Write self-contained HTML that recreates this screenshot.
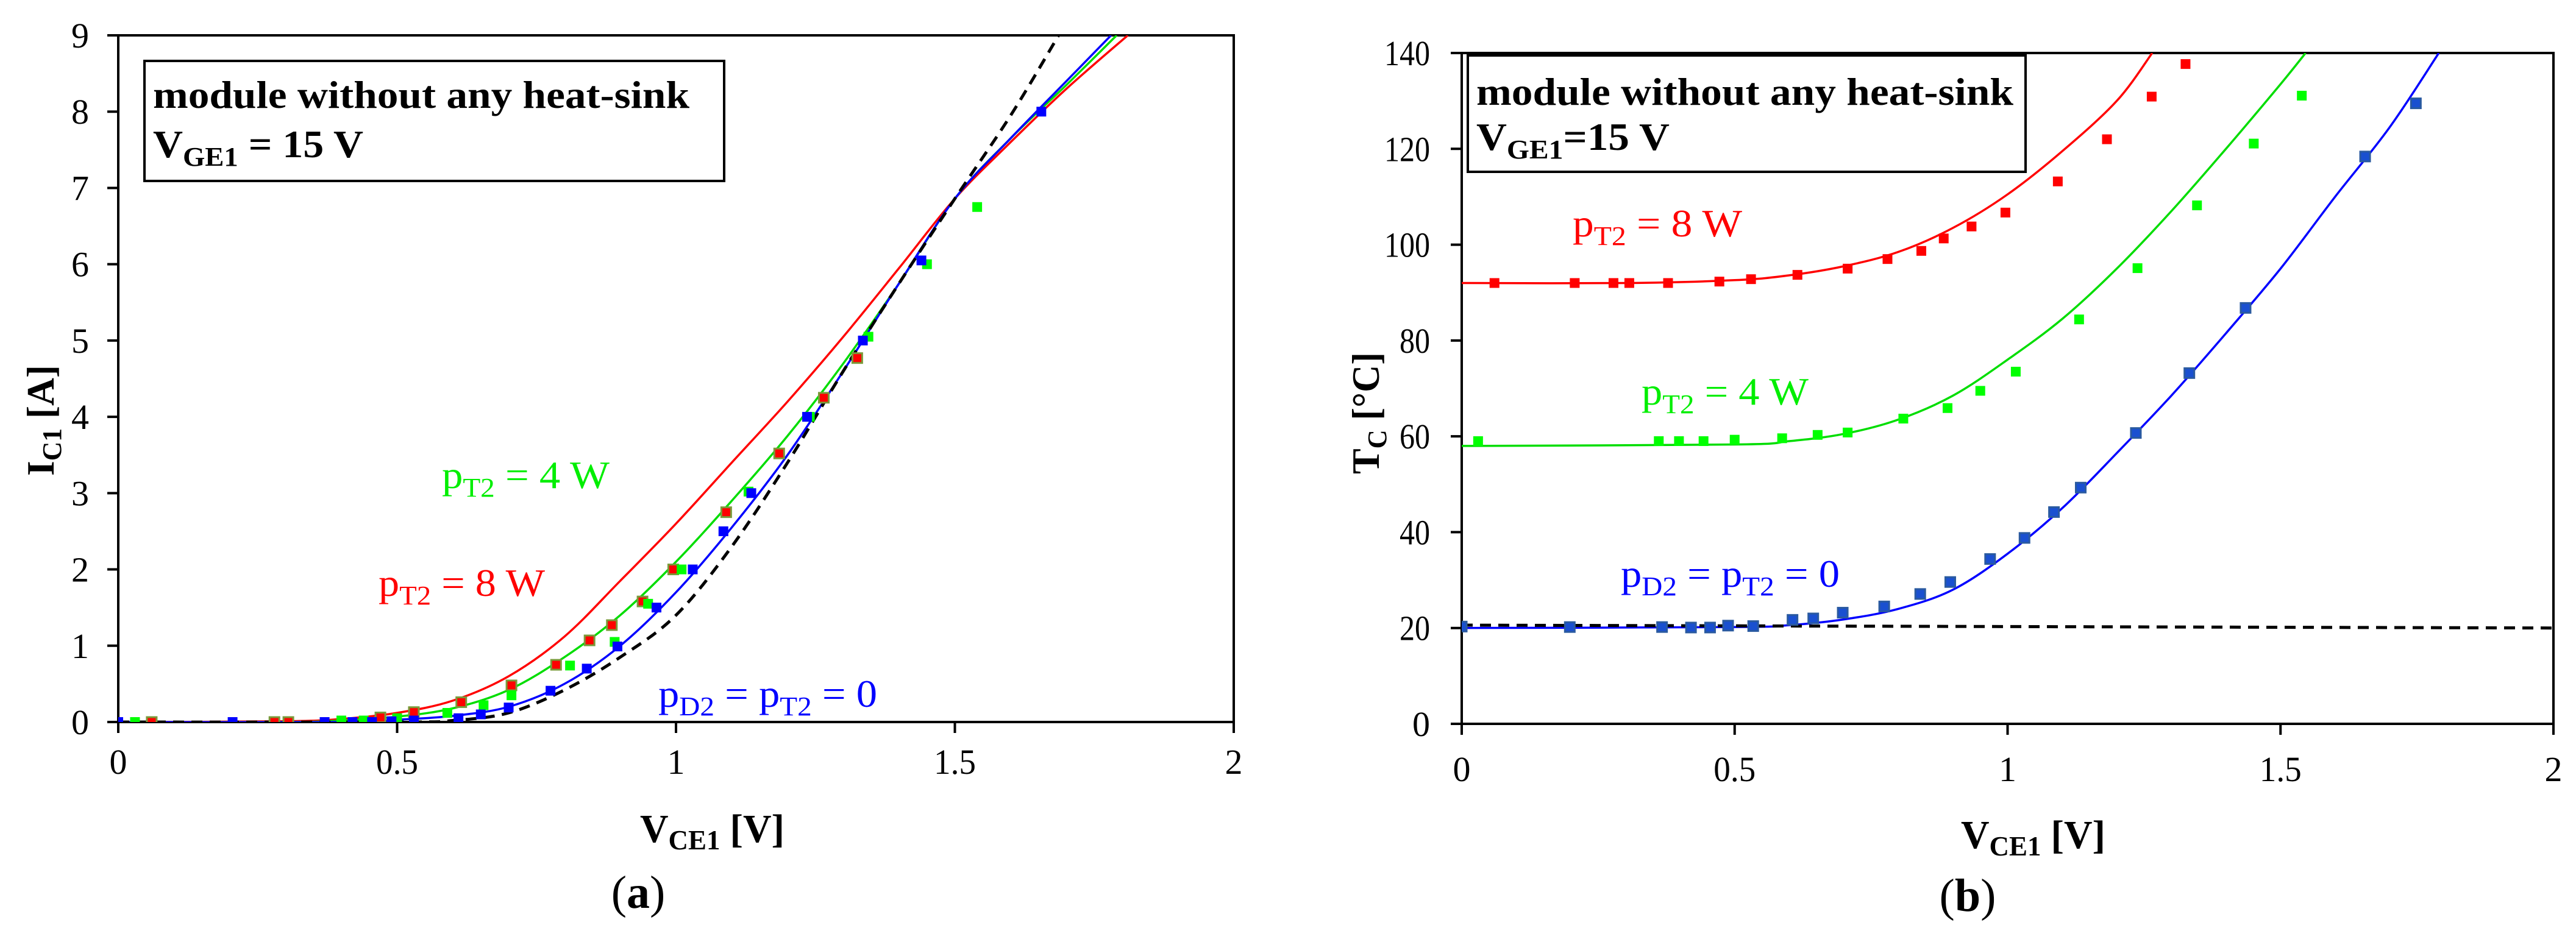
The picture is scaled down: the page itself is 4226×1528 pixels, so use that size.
<!DOCTYPE html>
<html><head><meta charset="utf-8"><style>
html,body{margin:0;padding:0;background:#fff;}
svg{display:block;}
svg text{font-family:"Liberation Serif","Times New Roman",serif;}
</style></head><body>
<svg id="fig" width="4226" height="1528" viewBox="0 0 4226 1528" xmlns="http://www.w3.org/2000/svg" font-family="Liberation Serif, 'Times New Roman', serif">
<defs>
<clipPath id="clipA"><rect x="194" y="58" width="1830" height="1127"/></clipPath>
<clipPath id="clipB"><rect x="2398" y="87" width="1791" height="1101"/></clipPath>
</defs>
<g id="chartA"></g>
<g id="chartB"></g>

<rect x="237" y="100" width="951" height="197" fill="#fff" stroke="#000" stroke-width="4"/>
<text x="251" y="177" font-size="64" font-weight="bold" textLength="880" lengthAdjust="spacingAndGlyphs">module without any heat-sink</text>
<text x="251" y="258" font-size="64" font-weight="bold" textLength="345" lengthAdjust="spacingAndGlyphs">V<tspan font-size="44" dy="14">GE1</tspan><tspan dy="-14"> = 15 V</tspan></text>
<text x="725" y="801" font-size="64" fill="#00ee00" textLength="275" lengthAdjust="spacingAndGlyphs">p<tspan font-size="44" dy="14">T2</tspan><tspan dy="-14"> = 4 W</tspan></text>
<text x="621" y="978" font-size="64" fill="#ff0000" textLength="273" lengthAdjust="spacingAndGlyphs">p<tspan font-size="44" dy="14">T2</tspan><tspan dy="-14"> = 8 W</tspan></text>
<text x="1080" y="1160" font-size="64" fill="#0000ff" textLength="359" lengthAdjust="spacingAndGlyphs">p<tspan font-size="44" dy="14">D2</tspan><tspan dy="-14"> = p</tspan><tspan font-size="44" dy="14">T2</tspan><tspan dy="-14"> = 0</tspan></text>
<text transform="translate(88,690) rotate(-90)" text-anchor="middle" font-size="64" font-weight="bold" textLength="182" lengthAdjust="spacingAndGlyphs">I<tspan font-size="44" dy="12">C1</tspan><tspan dy="-12"> [A]</tspan></text>
<text x="1050" y="1382" font-size="66" font-weight="bold" textLength="237" lengthAdjust="spacingAndGlyphs">V<tspan font-size="46" dy="12">CE1</tspan><tspan dy="-12"> [V]</tspan></text>
<text x="1047" y="1490" font-size="76" text-anchor="middle">(<tspan font-weight="bold">a</tspan>)</text>

<rect x="2408" y="91" width="915" height="191" fill="#fff" stroke="#000" stroke-width="4"/>
<text x="2422" y="172" font-size="64" font-weight="bold" textLength="881" lengthAdjust="spacingAndGlyphs">module without any heat-sink</text>
<text x="2422" y="246" font-size="64" font-weight="bold" textLength="317" lengthAdjust="spacingAndGlyphs">V<tspan font-size="44" dy="14">GE1</tspan><tspan dy="-14">=15 V</tspan></text>
<text x="2580" y="388" font-size="64" fill="#ff0000" textLength="278" lengthAdjust="spacingAndGlyphs">p<tspan font-size="44" dy="14">T2</tspan><tspan dy="-14"> = 8 W</tspan></text>
<text x="2693" y="664" font-size="64" fill="#00ee00" textLength="274" lengthAdjust="spacingAndGlyphs">p<tspan font-size="44" dy="14">T2</tspan><tspan dy="-14"> = 4 W</tspan></text>
<text x="2659" y="963" font-size="64" fill="#0000ff" textLength="359" lengthAdjust="spacingAndGlyphs">p<tspan font-size="44" dy="14">D2</tspan><tspan dy="-14"> = p</tspan><tspan font-size="44" dy="14">T2</tspan><tspan dy="-14"> = 0</tspan></text>
<text transform="translate(2262,678) rotate(-90)" text-anchor="middle" font-size="64" font-weight="bold" textLength="200" lengthAdjust="spacingAndGlyphs">T<tspan font-size="44" dy="12">C</tspan><tspan dy="-12">  [°C]</tspan></text>
<text x="3217" y="1392" font-size="66" font-weight="bold" textLength="237" lengthAdjust="spacingAndGlyphs">V<tspan font-size="46" dy="12">CE1</tspan><tspan dy="-12"> [V]</tspan></text>
<text x="3228" y="1495" font-size="76" text-anchor="middle">(<tspan font-weight="bold">b</tspan>)</text>
</svg>
<script>
const aXTicks = [0, 0.5, 1, 1.5, 2];
const aXTickLabels = ["0", "0.5", "1", "1.5", "2"];
const aYTicks = [0,1,2,3,4,5,6,7,8,9];
const aYTickLabels = ["0","1","2","3","4","5","6","7","8","9"];
const aBlueX = [0,0.205,0.37,0.42,0.455,0.49,0.53,0.61,0.65,0.70,0.775,0.84,0.895,0.965,1.03,1.085,1.135,1.235,1.335,1.44,1.655];
const aBlueY = [0,0,0,0,0,0.01,0.02,0.05,0.1,0.19,0.41,0.7,0.99,1.5,2.0,2.5,3.0,4.0,5.0,6.05,8.0];
const aGreenX = [0.03,0.37,0.40,0.44,0.5,0.59,0.655,0.705,0.81,0.89,0.95,1.01,1.13,1.24,1.345,1.45,1.54];
const aGreenY = [0,0,0.02,0.02,0.05,0.12,0.22,0.35,0.74,1.05,1.55,2.0,3.02,4.0,5.05,6.0,6.75];
const aRedX = [0.06,0.28,0.305,0.47,0.53,0.615,0.705,0.785,0.845,0.885,0.94,0.995,1.09,1.185,1.265,1.325];
const aRedY = [0,0,0,0.06,0.13,0.26,0.48,0.75,1.07,1.27,1.58,2.0,2.75,3.52,4.25,4.77];
const aRedLineX = [0,0.3,0.4,0.5,0.6,0.7,0.8,0.9,1.0,1.1,1.2,1.3,1.4,1.5,1.6,1.7,1.81];
const aRedLineY = [0,0.01,0.04,0.12,0.28,0.6,1.12,1.85,2.6,3.4,4.2,5.05,5.95,6.86,7.6,8.3,9];
const aGreenLineX = [0,0.3,0.4,0.5,0.6,0.7,0.8,0.9,1.0,1.1,1.2,1.3,1.4,1.5,1.6,1.7,1.79];
const aGreenLineY = [0,0,0.02,0.07,0.18,0.42,0.85,1.4,2.1,2.9,3.75,4.7,5.75,6.86,7.65,8.35,9];
const aBlueLineX = [0,0.4,0.5,0.6,0.7,0.8,0.9,1.0,1.1,1.2,1.3,1.4,1.5,1.6,1.7,1.78];
const aBlueLineY = [0,0,0.03,0.08,0.2,0.5,1.0,1.7,2.55,3.5,4.6,5.75,6.86,7.65,8.4,9];
const aDashX = [0,0.5,0.6,0.7,0.8,0.9,1.0,1.1,1.2,1.3,1.4,1.5,1.6,1.686];
const aDashY = [0,0,0.02,0.12,0.42,0.85,1.4,2.3,3.4,4.6,5.75,6.86,7.95,9];

const bXTicks = [0, 0.5, 1, 1.5, 2];
const bXTickLabels = ["0", "0.5", "1", "1.5", "2"];
const bYTicks = [0,20,40,60,80,100,120,140];
const bYTickLabels = ["0","20","40","60","80","100","120","140"];
const bRedX = [0.06,0.207,0.278,0.307,0.378,0.472,0.53,0.615,0.707,0.78,0.842,0.883,0.934,0.996,1.092,1.182,1.264,1.326];
const bRedY = [92,92,92,92,92,92.3,92.8,93.7,95,97,98.7,101.3,103.8,106.7,113.2,122,130.9,137.7];
const bGreenX = [0.03,0.361,0.398,0.443,0.5,0.587,0.652,0.707,0.809,0.89,0.95,1.015,1.131,1.238,1.347,1.451,1.539];
const bGreenY = [59,59,59,59,59.3,59.6,60.3,60.8,63.7,65.9,69.5,73.5,84.4,95.1,108.2,121.1,131.1];
const bBlueX = [0,0.198,0.367,0.42,0.455,0.488,0.534,0.606,0.644,0.698,0.774,0.84,0.895,0.968,1.031,1.085,1.134,1.235,1.333,1.436,1.655,1.748];
const bBlueY = [20.3,20.2,20.2,20.1,20.1,20.5,20.4,21.7,22,23.2,24.5,27.1,29.6,34.4,38.8,44.2,49.3,60.7,73.2,86.8,118.4,129.5];
const bRedLineX = [0,0.3,0.5,0.6,0.7,0.8,0.9,1.0,1.1,1.2,1.265];
const bRedLineY = [92,92,92.6,93.6,95.5,98.5,103.5,110.5,119.5,130,140];
const bGreenLineX = [0,0.5,0.6,0.7,0.8,0.9,1.0,1.1,1.2,1.3,1.4,1.5,1.546];
const bGreenLineY = [58,58.3,59,60.5,63.5,68.5,76,84.5,95,107,120,133.5,140];
const bBlueLineX = [0,0.5,0.6,0.7,0.8,0.9,1.0,1.1,1.2,1.3,1.4,1.5,1.6,1.7,1.79];
const bBlueLineY = [20,20.2,20.6,21.8,24,28,35.5,45,56.5,68.5,81.5,95,110,124.5,140];
const bDashX = [0,2];
const bDashY = [20.6,20];

const NS = "http://www.w3.org/2000/svg";
function mk(tag, attrs, parent){
  const e = document.createElementNS(NS, tag);
  for (const k in attrs) e.setAttribute(k, attrs[k]);
  parent.appendChild(e);
  return e;
}
function smoothPath(pts){
  if (pts.length < 3) return "M" + pts.map(p=>p[0].toFixed(1)+","+p[1].toFixed(1)).join(" L");
  let d = "M" + pts[0][0].toFixed(1) + "," + pts[0][1].toFixed(1);
  for (let i=0;i<pts.length-1;i++){
    const p0 = pts[Math.max(0,i-1)], p1 = pts[i], p2 = pts[i+1], p3 = pts[Math.min(pts.length-1,i+2)];
    const c1x = p1[0] + (p2[0]-p0[0])/6, c1y = p1[1] + (p2[1]-p0[1])/6;
    const c2x = p2[0] - (p3[0]-p1[0])/6, c2y = p2[1] - (p3[1]-p1[1])/6;
    d += " C" + c1x.toFixed(1)+","+c1y.toFixed(1)+" "+c2x.toFixed(1)+","+c2y.toFixed(1)+" "+p2[0].toFixed(1)+","+p2[1].toFixed(1);
  }
  return d;
}

function drawChart(g, cfg){
  const {x0,x1,y0,y1,xmax,ymax,clip} = cfg;
  const sx = v => x0 + (x1-x0)*v/xmax;
  const sy = v => y0 - (y0-y1)*v/ymax;
  const frame = mk("rect",{x:x0,y:y1,width:x1-x0,height:y0-y1,fill:"none",stroke:"#000","stroke-width":4},g);
  
  
  cfg.yTicks.forEach((t,i)=>{
    const tk = mk("line",{x1:x0-18,x2:x0,y1:sy(t),y2:sy(t),stroke:"#000","stroke-width":4},g);
    
    
    const lb = mk("text",{x:cfg.yLabelRight,y:sy(t)+20,"font-size":58,"text-anchor":"end"},g);
    
    
    lb.textContent = cfg.yTickLabels[i];
    if (lb.textContent.length>1) { lb.setAttribute("textLength", 25*lb.textContent.length); lb.setAttribute("lengthAdjust","spacingAndGlyphs"); }
  });
  cfg.xTicks.forEach((t,i)=>{
    const tk = mk("line",{x1:sx(t),x2:sx(t),y1:y0,y2:y0+18,stroke:"#000","stroke-width":4},g);
    
    
    const lb = mk("text",{x:sx(t),y:cfg.xLabelBase,"font-size":58,"text-anchor":"middle"},g);
    
    
    lb.textContent = cfg.xTickLabels[i];
    if (lb.textContent.length>1) { lb.setAttribute("textLength", 23*lb.textContent.length); lb.setAttribute("lengthAdjust","spacingAndGlyphs"); }
  });
  const cg = mk("g",{"clip-path":"url(#"+clip+")"},g);
  cfg.lines.forEach(L=>{
    const pts = L.x.map((v,i)=>[sx(v), sy(L.y[i])]);
    const p = mk("path",{d:smoothPath(pts),fill:"none",stroke:L.color,"stroke-width":L.w||3.5},cg);
    if (L.dash) p.setAttribute("stroke-dasharray", L.dash);
    
    
  });
  cfg.points.forEach(P=>{
    P.x.forEach((v,i)=>{
      const r = mk("rect",{x:sx(v)-8,y:sy(P.y[i])-8,width:16,height:16,fill:P.fill},cg);
      if (P.stroke) { r.setAttribute("stroke",P.stroke); r.setAttribute("stroke-width",3); }
      
      
    });
  });
}

drawChart(document.getElementById("chartA"),{
  x0:194,x1:2024,y0:1185,y1:58,xmax:2,ymax:9,clip:"clipA",
  xTicks:aXTicks,xTickLabels:aXTickLabels,yTicks:aYTicks,yTickLabels:aYTickLabels,
  yLabelRight:146,xLabelBase:1270,
  lines:[
    {x:aRedLineX,y:aRedLineY,color:"#ff0000",name:"line-a-8w"},
    {x:aGreenLineX,y:aGreenLineY,color:"#00dd00",name:"line-a-4w"},
    {x:aBlueLineX,y:aBlueLineY,color:"#0000ff",name:"line-a-0w"},
    {x:aDashX,y:aDashY,color:"#000",dash:"18 12",w:5,name:"line-a-reference-dashed"}
  ],
  points:[
    {x:aRedX,y:aRedY,fill:"#ff0000",stroke:"#7a9a3a",name:"point-a-8w"},
    {x:aGreenX,y:aGreenY,fill:"#00ff00",name:"point-a-4w"},
    {x:aBlueX,y:aBlueY,fill:"#0000ff",name:"point-a-0w"}
  ]
});
drawChart(document.getElementById("chartB"),{
  x0:2398,x1:4189,y0:1188,y1:87,xmax:2,ymax:140,clip:"clipB",
  xTicks:bXTicks,xTickLabels:bXTickLabels,yTicks:bYTicks,yTickLabels:bYTickLabels,
  yLabelRight:2346,xLabelBase:1282,
  lines:[
    {x:bRedLineX,y:bRedLineY,color:"#ff0000",name:"line-b-8w"},
    {x:bGreenLineX,y:bGreenLineY,color:"#00dd00",name:"line-b-4w"},
    {x:bBlueLineX,y:bBlueLineY,color:"#0000ff",name:"line-b-0w"},
    {x:bDashX,y:bDashY,color:"#000",dash:"18 12",w:5,name:"line-b-ambient-dashed"}
  ],
  points:[
    {x:bRedX,y:bRedY,fill:"#ff0000",name:"point-b-8w"},
    {x:bGreenX,y:bGreenY,fill:"#00ff00",name:"point-b-4w"},
    {x:bBlueX,y:bBlueY,fill:"#1a50d0",stroke:"#2a5aa0",name:"point-b-0w"}
  ]
});
</script>
</body></html>
